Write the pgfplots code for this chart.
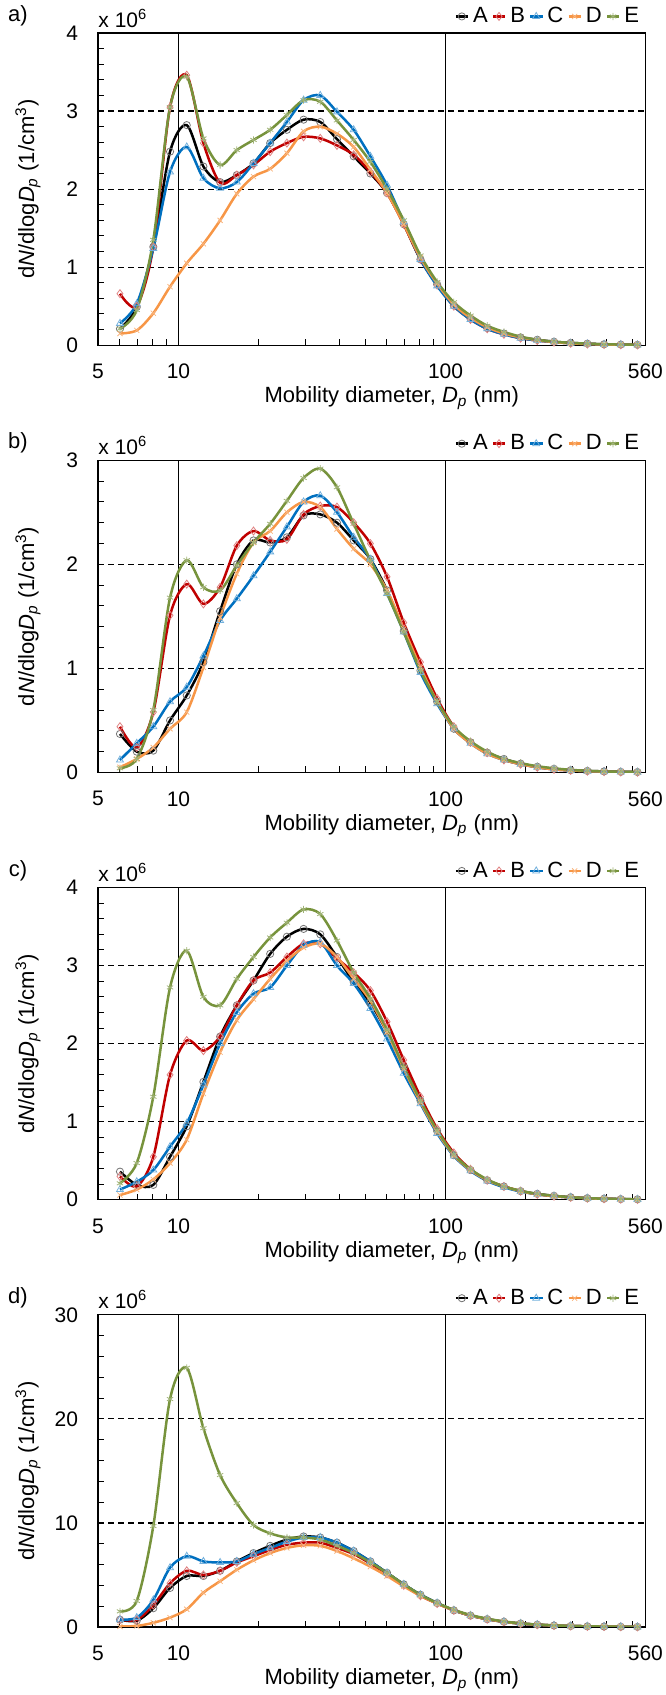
\documentclass[border=0pt]{standalone}
\usepackage{fontspec}
\setmainfont{Liberation Sans}
\usepackage{pgfplots}
\pgfplotsset{compat=1.18}
\usepackage{pgfplotstable}

\definecolor{serA}{HTML}{000000}
\definecolor{serB}{HTML}{C00000}
\definecolor{serC}{HTML}{0070C0}
\definecolor{serD}{HTML}{F79646}
\definecolor{serE}{HTML}{77933C}

% dN/dlogDp in units of 1e6 per cm3
\pgfplotstableread{
x A B C D E
6.04 0.21 0.66 0.28 0.15 0.21
6.98 0.49 0.50 0.53 0.19 0.45
8.05 1.26 1.26 1.24 0.41 1.35
9.30 2.48 3.05 2.22 0.75 3.05
10.74 2.82 3.46 2.54 1.05 3.44
12.40 2.29 2.59 2.14 1.30 2.65
14.32 2.09 2.08 2.01 1.60 2.31
16.54 2.18 2.18 2.09 1.94 2.50
19.10 2.33 2.31 2.33 2.16 2.63
22.05 2.59 2.48 2.59 2.26 2.76
25.47 2.76 2.59 2.86 2.46 2.95
29.41 2.89 2.67 3.14 2.74 3.14
33.96 2.86 2.65 3.20 2.80 3.12
39.22 2.64 2.56 2.99 2.71 2.88
45.29 2.42 2.44 2.76 2.54 2.63
52.30 2.20 2.22 2.42 2.25 2.35
60.39 1.95 1.95 2.05 1.95 2.00
69.75 1.55 1.55 1.58 1.55 1.60
80.54 1.10 1.10 1.10 1.12 1.15
93.01 0.78 0.77 0.76 0.79 0.81
107.4 0.51 0.50 0.50 0.52 0.55
124.0 0.34 0.33 0.33 0.35 0.38
143.2 0.22 0.21 0.21 0.23 0.25
165.4 0.15 0.14 0.14 0.15 0.17
191.0 0.10 0.09 0.09 0.10 0.11
220.5 0.07 0.06 0.06 0.065 0.07
254.7 0.045 0.04 0.04 0.04 0.045
294.1 0.03 0.025 0.025 0.025 0.03
339.6 0.02 0.015 0.015 0.015 0.02
392.2 0.012 0.01 0.01 0.01 0.012
452.9 0.008 0.006 0.006 0.006 0.008
523.0 0.005 0.004 0.004 0.004 0.005
}\tabA

\pgfplotstableread{
x A B C D E
6.04 0.37 0.44 0.12 0.05 0.04
6.98 0.20 0.24 0.28 0.13 0.13
8.05 0.21 0.58 0.44 0.24 0.60
9.30 0.50 1.51 0.68 0.42 1.68
10.74 0.74 1.81 0.82 0.58 2.04
12.40 1.06 1.62 1.12 1.01 1.78
14.32 1.55 1.78 1.46 1.49 1.75
16.54 2.00 2.18 1.67 1.91 1.99
19.10 2.23 2.32 1.89 2.21 2.21
22.05 2.21 2.23 2.12 2.32 2.39
25.47 2.26 2.24 2.36 2.50 2.61
29.41 2.47 2.48 2.60 2.60 2.83
33.96 2.48 2.56 2.66 2.55 2.92
39.22 2.40 2.55 2.50 2.34 2.74
45.29 2.23 2.40 2.26 2.15 2.39
52.30 2.05 2.20 2.05 2.00 2.04
60.39 1.75 1.88 1.72 1.75 1.72
69.75 1.36 1.44 1.35 1.38 1.35
80.54 0.98 1.06 0.96 1.01 0.98
93.01 0.68 0.71 0.66 0.68 0.68
107.4 0.42 0.44 0.42 0.42 0.44
124.0 0.29 0.29 0.28 0.28 0.30
143.2 0.19 0.19 0.18 0.18 0.20
165.4 0.13 0.12 0.12 0.12 0.13
191.0 0.085 0.08 0.08 0.08 0.09
220.5 0.055 0.05 0.05 0.05 0.06
254.7 0.035 0.03 0.03 0.03 0.04
294.1 0.022 0.02 0.02 0.02 0.025
339.6 0.015 0.013 0.013 0.013 0.016
392.2 0.01 0.008 0.008 0.008 0.01
452.9 0.006 0.005 0.005 0.005 0.006
523.0 0.004 0.003 0.003 0.003 0.004
}\tabB

\pgfplotstableread{
x A B C D E
6.04 0.36 0.30 0.13 0.06 0.21
6.98 0.19 0.17 0.23 0.13 0.47
8.05 0.19 0.55 0.38 0.26 1.32
9.30 0.55 1.60 0.68 0.47 2.72
10.74 0.94 2.04 0.98 0.77 3.19
12.40 1.51 1.91 1.47 1.36 2.60
14.32 2.09 2.09 2.00 1.89 2.49
16.54 2.49 2.49 2.40 2.30 2.83
19.10 2.81 2.81 2.64 2.57 3.11
22.05 3.15 2.91 2.72 2.83 3.36
25.47 3.37 3.11 3.00 3.06 3.55
29.41 3.47 3.28 3.26 3.23 3.72
33.96 3.40 3.28 3.30 3.28 3.66
39.22 3.11 3.09 3.00 3.11 3.32
45.29 2.79 2.91 2.77 2.83 2.91
52.30 2.52 2.68 2.45 2.55 2.58
60.39 2.15 2.28 2.06 2.15 2.18
69.75 1.70 1.79 1.62 1.68 1.70
80.54 1.27 1.32 1.23 1.25 1.27
93.01 0.88 0.91 0.85 0.87 0.89
107.4 0.57 0.60 0.56 0.57 0.58
124.0 0.38 0.39 0.37 0.38 0.39
143.2 0.25 0.25 0.24 0.25 0.26
165.4 0.17 0.17 0.16 0.17 0.17
191.0 0.11 0.11 0.105 0.11 0.115
220.5 0.075 0.07 0.07 0.07 0.075
254.7 0.05 0.045 0.045 0.045 0.05
294.1 0.032 0.03 0.03 0.03 0.032
339.6 0.02 0.019 0.019 0.019 0.02
392.2 0.013 0.012 0.012 0.012 0.013
452.9 0.008 0.007 0.007 0.007 0.008
523.0 0.005 0.004 0.004 0.004 0.005
}\tabC

\pgfplotstableread{
x A B C D E
6.04 0.7 0.7 0.7 0.05 1.5
6.98 0.6 0.7 0.9 0.1 2.5
8.05 1.8 2.1 2.6 0.4 9.7
9.30 3.75 4.2 5.7 0.9 21.9
10.74 4.9 5.4 6.8 1.7 24.9
12.40 4.9 5.0 6.3 3.3 19.1
14.32 5.4 5.4 6.2 4.4 14.6
16.54 6.3 6.2 6.3 5.5 11.9
19.10 7.1 6.8 7.0 6.4 9.8
22.05 7.8 7.4 7.6 7.1 9.0
25.47 8.4 7.9 8.2 7.6 8.6
29.41 8.7 8.1 8.6 7.85 8.6
33.96 8.6 8.1 8.6 7.8 8.4
39.22 8.1 7.6 8.1 7.3 7.8
45.29 7.3 7.0 7.3 6.6 7.1
52.30 6.3 6.1 6.3 5.8 6.2
60.39 5.2 5.1 5.2 4.9 5.2
69.75 4.1 4.0 4.1 3.9 4.1
80.54 3.1 3.0 3.1 3.0 3.1
93.01 2.3 2.25 2.3 2.25 2.3
107.4 1.6 1.6 1.6 1.6 1.65
124.0 1.1 1.1 1.1 1.1 1.15
143.2 0.75 0.75 0.75 0.75 0.8
165.4 0.5 0.5 0.5 0.5 0.53
191.0 0.33 0.33 0.33 0.33 0.35
220.5 0.22 0.22 0.22 0.22 0.23
254.7 0.14 0.14 0.14 0.14 0.15
294.1 0.09 0.09 0.09 0.09 0.1
339.6 0.06 0.06 0.06 0.06 0.06
392.2 0.04 0.04 0.04 0.04 0.04
452.9 0.02 0.02 0.02 0.02 0.02
523.0 0.01 0.01 0.01 0.01 0.01
}\tabD

\newcommand{\lblfont}{\fontsize{10.5}{12}\selectfont}
\newcommand{\axlfont}{\fontsize{11}{13}\selectfont}

\pgfkeys{/pgf/number format/assume math mode=true}

\tikzset{
  lineA/.style={serA, line width=1.25pt, smooth, mark=o, mark size=1.8pt,
    mark options={draw=black!55, line width=0.4pt, fill=none}},
  lineB/.style={serB, line width=1.25pt, smooth, mark=diamond, mark size=2pt,
    mark options={draw=serB!50, line width=0.4pt, fill=none}},
  lineC/.style={serC, line width=1.25pt, smooth, mark=triangle, mark size=2pt,
    mark options={draw=serC!55, line width=0.4pt, fill=none}},
  lineD/.style={serD, line width=1.25pt, smooth, mark=x, mark size=1.8pt,
    mark options={draw=serD!70, line width=0.4pt}},
  lineE/.style={serE, line width=1.25pt, smooth, mark=asterisk, mark size=1.8pt,
    mark options={draw=serE!70, line width=0.4pt}},
}

\pgfplotsset{
  every axis/.append style={
    scale only axis, width=273.5pt, height=156pt,
    xmin=5, xmax=560,
    xtick={5,10,100,560}, xticklabels={5,10,100,560},
    minor xtick={6,7,8,9,20,30,40,50,60,70,80,90,200,300,400,500},
    xtick pos=left, ytick pos=left, tick align=inside,
    major tick length=3pt, minor tick length=3pt,
    xmajorgrids, ymajorgrids,
    major x grid style={black, line width=0.6pt, solid},
    major y grid style={black, line width=0.6pt, dash pattern=on 3pt off 2pt},
    axis line style={black, line width=0.7pt},
    ymin=0, minor y tick num=4,
    scaled y ticks=false,
    tick label style={font=\lblfont},
    xticklabel style={yshift=-6pt},
    yticklabel style={xshift=-6.5pt},
    xlabel={Mobility diameter, \textit{D}\textsubscript{\textit{p}} (nm)},
    ylabel={d\textit{N}/dlog\textit{D}\textsubscript{\textit{p}} (1/cm\textsuperscript{3})},
    xlabel style={font=\axlfont, at={(rel axis cs:0.5,0)}, anchor=center, xshift=10pt, yshift=-26.5pt},
    ylabel style={font=\axlfont, at={(rel axis cs:0,0.5)}, anchor=center, yshift=35pt},
    legend columns=5,
    legend style={at={(1,1)}, anchor=south east, draw=none, fill=none,
      font=\axlfont, inner sep=0pt, xshift=-1pt, yshift=1.5pt},
    legend cell align=left,
  },
  every tick/.style={black, line width=0.5pt},
  legend image code/.code={%
    \draw[mark repeat=2, mark phase=2, #1] plot coordinates {(0pt,0pt) (3pt,0pt) (6pt,0pt)};},
}

\newcommand{\psdplots}[1]{%
  \addplot[lineA] table[x=x, y=A]{#1}; \addlegendentry{A}
  \addplot[lineB] table[x=x, y=B]{#1}; \addlegendentry{B}
  \addplot[lineC] table[x=x, y=C]{#1}; \addlegendentry{C}
  \addplot[lineD] table[x=x, y=D]{#1}; \addlegendentry{D}
  \addplot[lineE] table[x=x, y=E]{#1}; \addlegendentry{E}
}

\begin{document}
\begin{tikzpicture}
\path[use as bounding box] (-49pt,-674.5pt) rectangle (283.5pt,172.5pt);

\begin{semilogxaxis}[at={(0pt,0pt)}, ymax=4, ytick distance=1]
  \psdplots{\tabA}
\end{semilogxaxis}

\begin{semilogxaxis}[at={(0pt,-213.5pt)}, ymax=3, ytick distance=1]
  \psdplots{\tabB}
\end{semilogxaxis}

\begin{semilogxaxis}[at={(0pt,-427pt)}, ymax=4, ytick distance=1]
  \psdplots{\tabC}
\end{semilogxaxis}

\begin{semilogxaxis}[at={(0pt,-640.5pt)}, ymax=30, ytick distance=10]
  \psdplots{\tabD}
\end{semilogxaxis}

% panel letters and the common scale factor above each frame
\node[font=\axlfont, anchor=center] at (-40pt,164.5pt) {a)};
\node[font=\axlfont, anchor=center] at (-40pt,-49pt) {b)};
\node[font=\axlfont, anchor=center] at (-40pt,-262.5pt) {c)};
\node[font=\axlfont, anchor=center] at (-40pt,-476pt) {d)};
\node[font=\lblfont, anchor=base west, inner sep=0pt] at (0pt,159pt) {x 10\textsuperscript{6}};
\node[font=\lblfont, anchor=base west, inner sep=0pt] at (0pt,-54.5pt) {x 10\textsuperscript{6}};
\node[font=\lblfont, anchor=base west, inner sep=0pt] at (0pt,-268pt) {x 10\textsuperscript{6}};
\node[font=\lblfont, anchor=base west, inner sep=0pt] at (0pt,-481.5pt) {x 10\textsuperscript{6}};
\end{tikzpicture}
\end{document}
